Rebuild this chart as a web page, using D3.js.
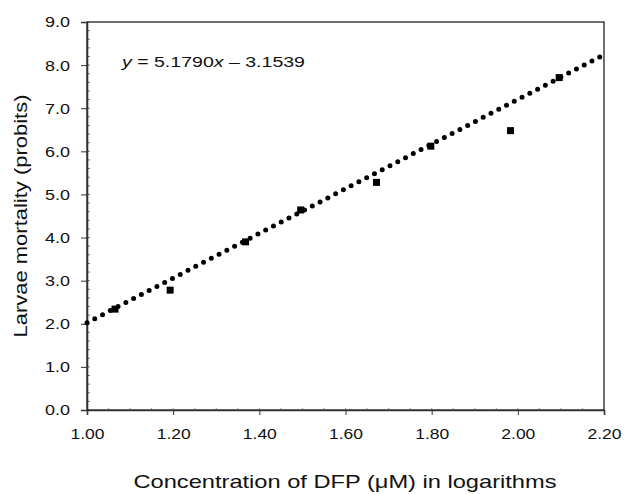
<!DOCTYPE html>
<html>
<head>
<meta charset="utf-8">
<script src="https://cdn.jsdelivr.net/npm/d3@7"></script>
<style>
  body { margin: 0; background: #fff; }
  svg { display: block; }
  text { font-family: "Liberation Sans", Arial, sans-serif; fill: #111; }
</style>
</head>
<body>
<svg id="chart" width="625" height="494"></svg>
<script>
// log concentration of DFP (uM) vs larvae mortality (probits)
const logConc = [1.065, 1.193, 1.368, 1.496, 1.672, 1.798, 1.983, 2.096];
const probits = [2.34, 2.78, 3.90, 4.64, 5.28, 6.12, 6.48, 7.71];
const fitSlope = 5.1790;
const fitIntercept = -3.1539;
const xTicks = [1.0, 1.2, 1.4, 1.6, 1.8, 2.0, 2.2];
const yTicks = [0, 1, 2, 3, 4, 5, 6, 7, 8, 9];

const svg = d3.select('#chart');
const x = d3.scaleLinear().domain([1.0, 2.2]).range([87, 604]);
const y = d3.scaleLinear().domain([0, 9]).range([410, 22]);

// frame
svg.append('rect')
    .attr('x', x(1.0)).attr('y', y(9))
    .attr('width', x(2.2) - x(1.0)).attr('height', y(0) - y(9))
    .style('fill', 'none').style('stroke', '#111').style('stroke-width', 1.2);

// minor ticks (inside)
svg.append('g').selectAll('line')
    .data(d3.range(0, 9.01, 0.2))
    .join('line')
    .attr('x1', x(1.0)).attr('x2', x(1.0) + 3)
    .attr('y1', d => y(d)).attr('y2', d => y(d))
    .style('stroke', '#555').style('stroke-width', 0.8);

svg.append('g').selectAll('line')
    .data(d3.range(1.05, 2.2, 0.05))
    .join('line')
    .attr('x1', d => x(d)).attr('x2', d => x(d))
    .attr('y1', y(0)).attr('y2', y(0) - 2)
    .style('stroke', '#777').style('stroke-width', 0.8);

// y axis
const yAxis = svg.append('g')
    .attr('transform', `translate(${x(1.0)},0)`)
    .call(d3.axisLeft(y).tickValues(yTicks).tickFormat(d3.format('.1f')).tickSize(6).tickPadding(11));
yAxis.select('.domain').style('stroke', '#333').style('stroke-width', 1.6);
yAxis.selectAll('.tick line').style('stroke', '#333');
yAxis.selectAll('.tick text')
    .style('font-size', '15.5px')
    .attr('textLength', 25).attr('lengthAdjust', 'spacingAndGlyphs');

// x axis
const xAxis = svg.append('g')
    .attr('transform', `translate(0,${y(0)})`)
    .call(d3.axisBottom(x).tickValues(xTicks).tickFormat(d3.format('.2f')).tickSize(5).tickPadding(13));
xAxis.select('.domain').style('stroke', '#333').style('stroke-width', 1.6);
xAxis.selectAll('.tick line').style('stroke', '#333');
xAxis.selectAll('.tick text')
    .style('font-size', '15.5px')
    .attr('textLength', 34).attr('lengthAdjust', 'spacingAndGlyphs');

// fitted trend line, dotted
const fit = v => fitSlope * v + fitIntercept;
svg.append('line')
    .attr('x1', x(1.0)).attr('y1', y(fit(1.0)))
    .attr('x2', x(2.2)).attr('y2', y(fit(2.2)))
    .style('stroke', '#000').style('stroke-width', 5)
    .style('stroke-linecap', 'round').style('stroke-dasharray', '0 8.75');

// data points
svg.append('g').selectAll('rect')
    .data(logConc.map((v, i) => [v, probits[i]]))
    .join('rect')
    .attr('x', d => x(d[0]) - 3.5).attr('y', d => y(d[1]) - 3.5)
    .attr('width', 7).attr('height', 7)
    .style('fill', '#000');

// equation
const eq = svg.append('text')
    .attr('x', 122).attr('y', 67)
    .style('font-size', '15.5px')
    .attr('textLength', 183).attr('lengthAdjust', 'spacingAndGlyphs');
eq.append('tspan').style('font-style', 'italic').text('y');
eq.append('tspan').text(' = 5.1790');
eq.append('tspan').style('font-style', 'italic').text('x');
eq.append('tspan').text(' \u2013 3.1539');

// axis titles
svg.append('text')
    .attr('x', 345).attr('y', 488)
    .attr('text-anchor', 'middle')
    .style('font-size', '18.5px')
    .attr('textLength', 423).attr('lengthAdjust', 'spacingAndGlyphs')
    .text('Concentration of DFP (\u03bcM) in logarithms');

svg.append('text')
    .attr('transform', 'translate(27,216) rotate(-90)')
    .attr('text-anchor', 'middle')
    .style('font-size', '19px')
    .attr('textLength', 243).attr('lengthAdjust', 'spacingAndGlyphs')
    .text('Larvae mortality (probits)');
</script>
</body>
</html>
